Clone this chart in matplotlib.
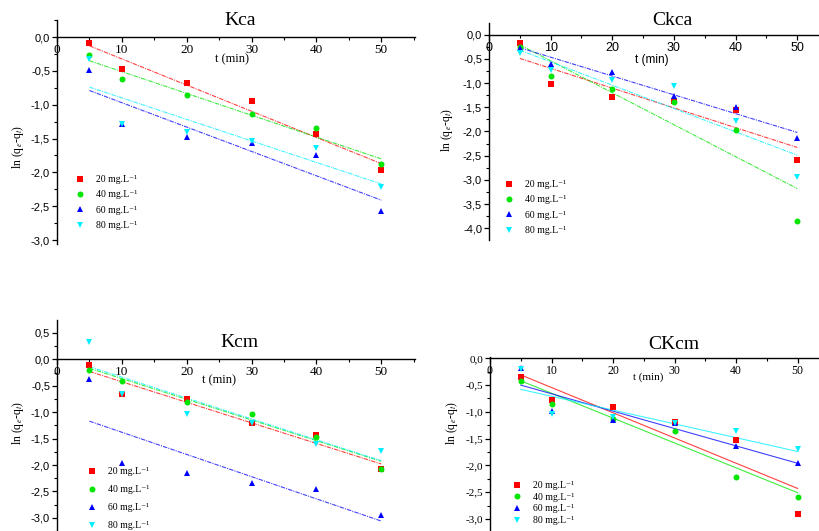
import numpy as np
import matplotlib.pyplot as plt
from matplotlib.ticker import MultipleLocator, FuncFormatter

plt.rcParams['font.family'] = ['Liberation Serif', 'DejaVu Serif']
plt.rcParams['mathtext.fontset'] = 'stix'

W, H = 820, 531

# contact times and concentration series
t = [5, 10, 20, 30, 40, 50]
conc_labels = ['20 mg.L⁻¹', '40 mg.L⁻¹', '60 mg.L⁻¹', '80 mg.L⁻¹']
colors = ['#ff0000', '#00e600', '#0000ff', '#00f0ff']
markers = ['s', 'o', '^', 'v']

# ln(qe - qt) per concentration (20, 40, 60, 80 mg/L)
kca_y = [[-0.09, -0.47, -0.68, -0.94, -1.43, -1.97],
         [-0.27, -0.62, -0.85, -1.13, -1.34, -1.88],
         [-0.48, -1.29, -1.47, -1.56, -1.75, -2.57],
         [-0.33, -1.28, -1.40, -1.53, -1.64, -2.22]]
ckca_y = [[-0.18, -1.01, -1.28, -1.38, -1.56, -2.59],
          [-0.25, -0.85, -1.13, -1.40, -1.97, -3.84],
          [-0.27, -0.61, -0.78, -1.27, -1.49, -2.13],
          [-0.37, -0.72, -0.94, -1.07, -1.78, -2.93]]
kcm_y = [[-0.11, -0.66, -0.75, -1.21, -1.44, -2.07],
         [-0.20, -0.41, -0.80, -1.04, -1.47, -2.07],
         [-0.38, -1.97, -2.15, -2.34, -2.46, -2.94],
         [0.33, -0.65, -1.03, -1.20, -1.61, -1.73]]
ckcm_y = [[-0.35, -0.78, -0.91, -1.18, -1.52, -2.91],
          [-0.43, -0.86, -1.14, -1.35, -2.22, -2.58],
          [-0.19, -0.98, -1.16, -1.20, -1.63, -1.96],
          [-0.20, -1.04, -1.10, -1.20, -1.36, -1.69]]

# linear fits: value at t = 5 and t = 50
fit_t = [5, 50]
kca_fit = [[-0.13, -1.87], [-0.35, -1.80], [-0.79, -2.41], [-0.74, -2.17]]
ckca_fit = [[-0.49, -2.33], [-0.21, -3.18], [-0.27, -2.02], [-0.32, -2.49]]
kcm_fit = [[-0.23, -1.98], [-0.17, -1.93], [-1.17, -3.06], [-0.14, -1.92]]
ckcm_fit = [[-0.31, -2.43], [-0.42, -2.51], [-0.50, -1.96], [-0.58, -1.74]]

SANS = ['Liberation Sans', 'DejaVu Sans']
SERIF = ['Liberation Serif', 'DejaVu Serif']

fig = plt.figure(figsize=(W / 100, H / 100), dpi=100)


def comma(v, pos):
    return f'{v:.1f}'.replace('.', ',')


def panel(px, xlim, ylim, ys, fits, title, title_xy, xlab_xy, ylab_px,
          leg_px, leg_space, ytick_font, xtick_font, fit_style, xsize=9.5):
    left, top, right, bottom = px
    ax = fig.add_axes([left / W, 1 - bottom / H, (right - left) / W, (bottom - top) / H])
    ax.set_xlim(*xlim)
    ax.set_ylim(*ylim)
    for s in ['top', 'right']:
        ax.spines[s].set_visible(False)
    ax.spines['bottom'].set_position(('data', 0))
    for s in ['bottom', 'left']:
        ax.spines[s].set_linewidth(1.0)
    ax.patch.set_alpha(0)

    ax.xaxis.set_major_locator(MultipleLocator(10))
    ax.xaxis.set_minor_locator(MultipleLocator(5))
    ax.yaxis.set_major_locator(MultipleLocator(0.5))
    ax.yaxis.set_minor_locator(MultipleLocator(0.25))
    ax.yaxis.set_major_formatter(FuncFormatter(comma))
    ax.tick_params(axis='both', which='major', direction='out', length=3.5, width=0.9,
                   pad=1.5)
    ax.tick_params(axis='x', labelsize=xsize)
    ax.tick_params(axis='y', labelsize=8)
    ax.tick_params(axis='both', which='minor', direction='out', length=2, width=0.8)
    for lab in ax.get_yticklabels():
        lab.set_family(ytick_font)
    for lab in ax.get_xticklabels():
        lab.set_family(xtick_font)

    for i in range(4):
        ax.plot(fit_t, fits[i], color=colors[i], lw=0.8, alpha=0.75,
                ls=fit_style, zorder=2)
    for i in range(4):
        ax.plot(t, ys[i], ls='none', marker=markers[i], color=colors[i],
                ms=5 if markers[i] in '^v' else 4.3, mew=0,
                label=conc_labels[i], zorder=3, clip_on=False)

    ax.text(*title_xy, title, fontsize=14, ha='center', va='center')
    ax.text(*xlab_xy, 't (min)', fontsize=xsize - 0.5, ha='center', va='center',
            family=xtick_font)
    fig.text(ylab_px[0] / W, 1 - ylab_px[1] / H, 'ln (q$_e$-q$_t$)', fontsize=8.5,
             rotation=90, ha='center', va='center')

    ax.legend(loc='upper left', bbox_to_anchor=(leg_px[0] / W, 1 - leg_px[1] / H),
              bbox_transform=fig.transFigure, frameon=False, fontsize=7,
              borderpad=0, borderaxespad=0, handlelength=1.0,
              handletextpad=1.2, labelspacing=leg_space)
    return ax


panel((57, 20.1, 415, 243.5), (0, 55.2), (-3.05, 0.25), kca_y, kca_fit, 'Kca',
      (28.2, 0.24), (27, -0.33), (18, 147), (75, 175), 0.65, SANS, SERIF,
      (0, (4, 1, 1, 1)))
panel((489, 23.1, 820, 239.9), (0, 53.68), (-4.24, 0.24), ckca_y, ckca_fit, 'Ckca',
      (29.8, 0.3), (26.4, -0.52), (447, 130), (504, 180), 0.65, SANS, SANS,
      (0, (4, 1, 1, 1)), 9)
panel((57, 320.2, 415, 531.1), (0, 55.2), (-3.25, 0.74), kcm_y, kcm_fit, 'Kcm',
      (28.2, 0.31), (25, -0.39), (18, 423), (87, 467), 0.93, SANS, SERIF,
      (0, (4, 1, 1, 1)))
panel((490, 356.7, 820, 530.8), (0, 53.62), (-3.22, 0.03), ckcm_y, ckcm_fit, 'CKcm',
      (29.8, 0.25), (25.7, -0.35), (452, 423), (512, 481), 0.28, SERIF, SERIF,
      '-', 8.5)

fig.savefig('out.png', dpi=100)
